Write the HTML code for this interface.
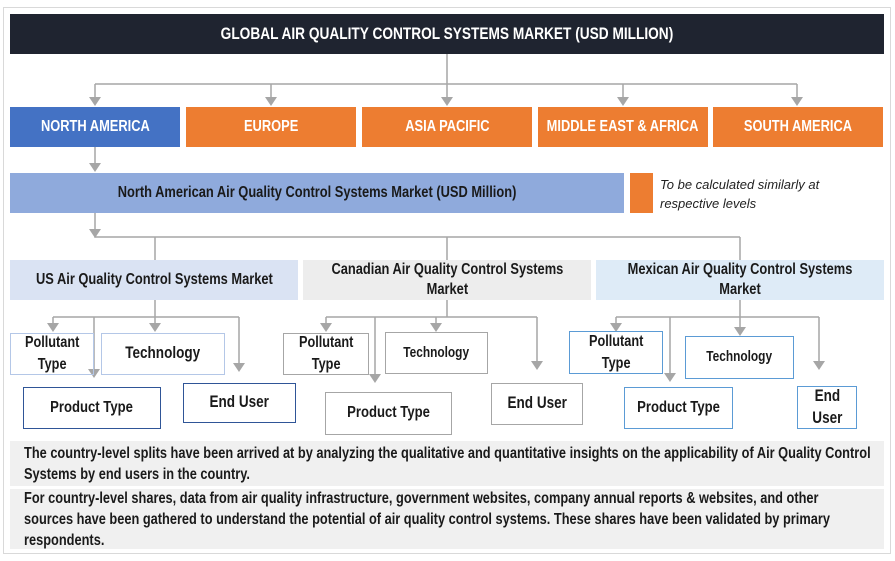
<!DOCTYPE html>
<html><head><meta charset="utf-8"><style>
body{margin:0;width:895px;height:561px;background:#fff;position:relative;overflow:hidden;font-family:"Liberation Sans",sans-serif;}
.b{position:absolute;box-sizing:border-box;display:flex;align-items:center;justify-content:center;text-align:center;font-weight:bold;color:#1a1a1a;line-height:1.3;white-space:nowrap;}
.b>span{display:inline-block;transform:scaleX(.82);}
svg{position:absolute;left:0;top:0}
.t{position:absolute;font-weight:bold;color:#1a1a1a;font-size:16px;line-height:21px;transform:scaleX(.8);transform-origin:0 0;white-space:nowrap;}
</style></head><body>
<div style="position:absolute;left:3px;top:7px;width:886px;height:545px;border:1.5px solid #d9d9d9;"></div>
<div class="b" style="left:10px;top:14px;width:874px;height:40px;background:#1f2430;color:#fff;font-size:16.7px;"><span>GLOBAL AIR QUALITY CONTROL SYSTEMS MARKET (USD MILLION)</span></div>
<svg width="895" height="561">
<g stroke="#a6a6a6" stroke-width="1.5" fill="none">
<path d="M447 54V84M95 84H797M95 84V98M271 84V98M447 84V98M623 84V98M797 84V98"/>
<path d="M95 147V164M95 213V237H740M155 237V260M447 237V260M740 237V260"/>
<path d="M155 300V317M53 317H239M53 317V324M155 317V324M239 317V364M94 317V370"/>
<path d="M447 300V317M326 317H537M326 317V324M436 317V324M537 317V362M375 317V375"/>
<path d="M740 300V317M616 317H819M616 317V324M740 317V328M819 317V362M670 317V374"/>
</g>
<g fill="#a6a6a6">
<path d="M89 97h12l-6 9zM265 97h12l-6 9zM441 97h12l-6 9zM617 97h12l-6 9zM791 97h12l-6 9zM89 163h12l-6 9zM89 229h12l-6 9z"/>
<path d="M47 323h12l-6 9zM149 323h12l-6 9zM233 363h12l-6 9zM88 369h12l-6 9z"/>
<path d="M320 323h12l-6 9zM430 323h12l-6 9zM531 361h12l-6 9zM369 374h12l-6 9z"/>
<path d="M610 323h12l-6 9zM734 327h12l-6 9zM813 361h12l-6 9zM664 373h12l-6 9z"/>
</g></svg>
<div class="b" style="left:10px;top:107px;width:170px;height:40px;background:#4472c4;color:#fff;font-size:15.7px;"><span>NORTH AMERICA</span></div>
<div class="b" style="left:186px;top:107px;width:170px;height:40px;background:#ed7d31;color:#fff;font-size:15.7px;"><span>EUROPE</span></div>
<div class="b" style="left:362px;top:107px;width:170px;height:40px;background:#ed7d31;color:#fff;font-size:15.7px;"><span>ASIA PACIFIC</span></div>
<div class="b" style="left:538px;top:107px;width:170px;height:40px;background:#ed7d31;color:#fff;font-size:15.7px;"><span>MIDDLE EAST &amp; AFRICA</span></div>
<div class="b" style="left:713px;top:107px;width:170px;height:40px;background:#ed7d31;color:#fff;font-size:15.7px;"><span>SOUTH AMERICA</span></div>
<div class="b" style="left:10px;top:173px;width:614px;height:40px;background:#8faadc;font-size:15.7px;"><span>North American Air Quality Control Systems Market (USD Million)</span></div>
<div style="position:absolute;left:630px;top:173px;width:23px;height:40px;background:#ed7d31;"></div>
<div style="position:absolute;left:660px;top:175px;font-style:italic;font-size:13px;line-height:19px;color:#222;">To be calculated similarly at<br>respective levels</div>
<div class="b" style="left:10px;top:260px;width:288px;height:40px;background:#dae3f3;font-size:15.7px;"><span>US Air Quality Control Systems Market</span></div>
<div class="b" style="left:303px;top:260px;width:288px;height:40px;background:#ededed;font-size:15.7px;"><span>Canadian Air Quality Control Systems<br>Market</span></div>
<div class="b" style="left:596px;top:260px;width:288px;height:40px;background:#deebf7;font-size:15.7px;"><span>Mexican Air Quality Control Systems<br>Market</span></div>

<div class="b" style="left:10px;top:333px;width:84px;height:42px;border:1.5px solid #b4c7e7;font-size:15.5px;line-height:1.4;"><span>Pollutant<br>Type</span></div>
<div class="b" style="left:101px;top:333px;width:124px;height:42px;border:1.5px solid #b4c7e7;font-size:16.5px;"><span>Technology</span></div>
<div class="b" style="left:23px;top:387px;width:138px;height:42px;border:1.5px solid #2f5597;font-size:16px;"><span>Product Type</span></div>
<div class="b" style="left:183px;top:383px;width:113px;height:40px;border:1.5px solid #2f5597;font-size:16.5px;"><span>End User</span></div>

<div class="b" style="left:283px;top:333px;width:86px;height:42px;border:1.5px solid #a6a6a6;font-size:15.5px;line-height:1.4;"><span>Pollutant<br>Type</span></div>
<div class="b" style="left:385px;top:332px;width:103px;height:42px;border:1.5px solid #a6a6a6;font-size:14.5px;"><span>Technology</span></div>
<div class="b" style="left:325px;top:392px;width:127px;height:43px;border:1.5px solid #a6a6a6;font-size:16px;"><span>Product Type</span></div>
<div class="b" style="left:491px;top:383px;width:92px;height:42px;border:1.5px solid #a6a6a6;font-size:16.5px;"><span>End User</span></div>

<div class="b" style="left:569px;top:331px;width:94px;height:43px;border:1.5px solid #5b9bd5;font-size:15.5px;line-height:1.4;"><span>Pollutant<br>Type</span></div>
<div class="b" style="left:685px;top:336px;width:109px;height:43px;border:1.5px solid #5b9bd5;font-size:14.5px;"><span>Technology</span></div>
<div class="b" style="left:624px;top:387px;width:109px;height:42px;border:1.5px solid #5b9bd5;font-size:16px;"><span>Product Type</span></div>
<div class="b" style="left:797px;top:386px;width:60px;height:43px;border:1.5px solid #5b9bd5;font-size:16.5px;line-height:1.3;"><span>End<br>User</span></div>

<div style="position:absolute;left:10px;top:441px;width:874px;height:45px;background:#f0f0f0;"></div>
<div style="position:absolute;left:10px;top:489px;width:874px;height:60px;background:#f0f0f0;"></div>
<div class="t" style="left:24px;top:443px;">The country-level splits have been arrived at by analyzing the qualitative and quantitative insights on the applicability of Air Quality Control<br>Systems by end users in the country.</div>
<div class="t" style="left:24px;top:488px;">For country-level shares, data from air quality infrastructure, government websites, company annual reports &amp; websites, and other<br>sources have been gathered to understand the potential of air quality control systems. These shares have been validated by primary<br>respondents.</div>
</body></html>
